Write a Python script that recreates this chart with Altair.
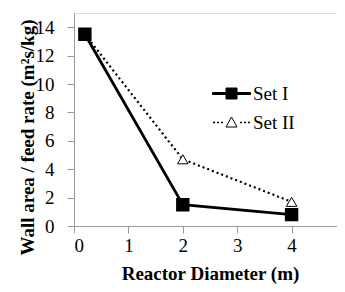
import altair as alt
import pandas as pd

diam = [0.2, 2, 4]
set1 = [13.5, 1.5, 0.8]
set2 = [13.5, 4.7, 1.7]
series_names = ["Set I", "Set II"]
x_ticks = [0, 1, 2, 3, 4, 5]
y_ticks = [0, 2, 4, 6, 8, 10, 12, 14]

df = pd.DataFrame(
    {"x": diam * 2, "y": set1 + set2, "series": [series_names[0]] * 3 + [series_names[1]] * 3}
)

FONT = "Liberation Serif"
GRAY = "#9a9a9a"

xs = alt.Scale(domain=[0, 5], nice=False)
ys = alt.Scale(domain=[0, 15], nice=False)

x_enc = alt.X(
    "x:Q", scale=xs,
    axis=alt.Axis(
        values=x_ticks, title="Reactor Diameter (m)", grid=False,
        labelFont=FONT, labelFontSize=19, labelColor="black", labelPadding=3,
        tickColor=GRAY, tickSize=7, domainColor=GRAY,
        titleFont=FONT, titleFontSize=19, titleFontWeight="bold", titleColor="black",
        titleBaseline="alphabetic", titleY=53,
    ),
)
y_enc = alt.Y(
    "y:Q", scale=ys,
    axis=alt.Axis(
        values=y_ticks, title="Wall area / feed rate (m²s/kg)", grid=False,
        labelFont=FONT, labelFontSize=19, labelColor="black", labelPadding=13,
        tickColor=GRAY, tickSize=7, domainColor=GRAY,
        titleFont=FONT, titleFontSize=19, titleFontWeight="bold", titleColor="black",
        titleBaseline="alphabetic", titleX=-41, titleY=124, titleAlign="center", titleAngle=-90,
    ),
)

base = alt.Chart(df)

line2 = base.transform_filter(alt.datum.series == "Set II").mark_line(
    color="black", strokeWidth=2.2, strokeDash=[2, 3]
).encode(x=x_enc, y=y_enc)
line1 = base.transform_filter(alt.datum.series == "Set I").mark_line(
    color="black", strokeWidth=2.8
).encode(x=x_enc, y=y_enc)
pts2 = base.transform_filter(alt.datum.series == "Set II").mark_point(
    shape="triangle-up", fill="white", stroke="black", strokeWidth=1, size=110, opacity=1, filled=False
).encode(x=x_enc, y=y_enc)
pts1 = base.transform_filter(alt.datum.series == "Set I").mark_point(
    shape="square", fill="black", stroke="black", size=130, opacity=1, filled=True
).encode(x=x_enc, y=y_enc)

dots_left = "".join(f"M{c-0.05:.2f},-0.05H{c+0.05:.2f}V0.05H{c-0.05:.2f}Z" for c in [-1.75, -1.35, -0.95])
dots_right = "".join(f"M{c-0.05:.2f},-0.05H{c+0.05:.2f}V0.05H{c-0.05:.2f}Z" for c in [0.95, 1.35, 1.75])
path1 = "M-1.9,-0.1H1.9V0.1H-1.9ZM-0.55,-0.55H0.55V0.55H-0.55Z"
path2 = dots_left + "M0,-0.55L0.55,0.45H-0.55Z" + dots_right

leg = alt.Legend(
    title=None, orient="none", legendX=147, legendY=70, padding=0,
    labelFont=FONT, labelFontSize=19, labelColor="black", labelOffset=11,
    rowPadding=8, symbolSize=400, symbolStrokeColor="black", symbolStrokeWidth=1,
    symbolOpacity=1,
)
legend_layer = base.mark_point(opacity=0, size=400, stroke="black", strokeWidth=1).encode(
    x=x_enc, y=y_enc,
    shape=alt.Shape("series:N", scale=alt.Scale(domain=series_names, range=[path1, path2]), legend=leg),
    fill=alt.Fill("series:N", scale=alt.Scale(domain=series_names, range=["black", "white"]), legend=leg),
    stroke=alt.Stroke("series:N", scale=alt.Scale(domain=series_names, range=["black", "black"]), legend=leg),
)

chart = alt.layer(legend_layer, line2, line1, pts2, pts1).properties(
    width=272, height=213,
    autosize=alt.AutoSizeParams(type="none"),
    padding={"left": 66, "top": 5, "right": -9, "bottom": 58},
).configure_view(stroke=GRAY, strokeWidth=1).configure(background="white")

chart.save("out.html", embed_options={"renderer": "svg", "actions": False})
